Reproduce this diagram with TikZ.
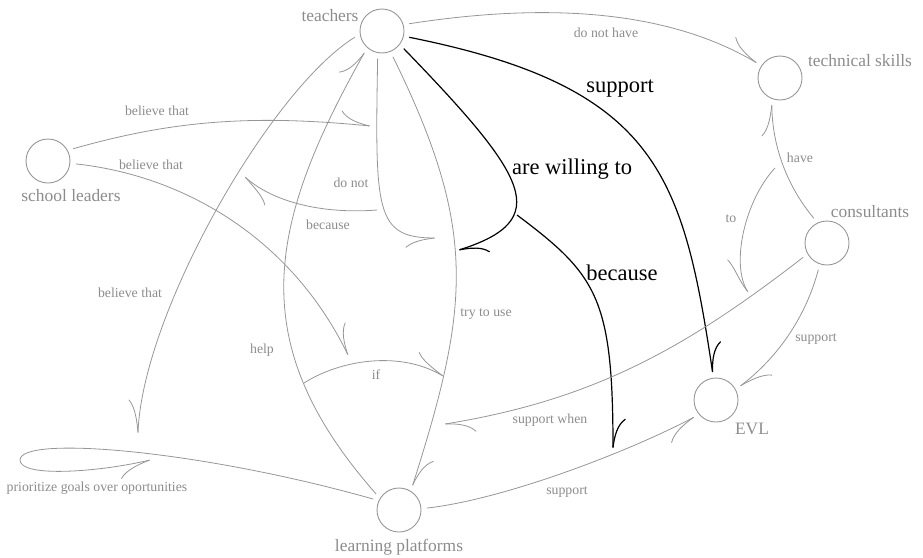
\documentclass[tikz,border=0pt]{standalone}
\usepackage{fontspec}
\setmainfont{Liberation Serif}
\usepackage{xcolor}
\usetikzlibrary{arrows.meta,bending,positioning}
\definecolor{mapgray}{RGB}{150,150,150}
\definecolor{labelgray}{RGB}{140,140,140}
\tikzset{%
	concept/.style     = {draw=mapgray, line width=0.9pt, circle, minimum size=44pt, inner sep=0pt, outer sep=6pt},
	conceptname/.style = {text=labelgray, font=\fontsize{17.4}{20}\selectfont, inner sep=0pt},
	tag/.style         = {text=labelgray, font=\fontsize{13.8}{16}\selectfont, inner sep=0pt},
	bigtag/.style      = {text=black, font=\fontsize{22.5}{26}\selectfont, inner sep=0pt},
	link/.style        = {draw=mapgray, line width=0.8pt, -{To[harpoon, length=30pt, width=26pt, bend]}},
	linkr/.style       = {draw=mapgray, line width=0.8pt, -{To[harpoon, swap, length=30pt, width=26pt, bend]}},
	strong/.style      = {draw=black, line width=1.2pt, -{To[harpoon, length=30pt, width=26pt, bend]}},
}
\begin{document}
\begin{tikzpicture}[x=1pt,y=-1pt]
	\useasboundingbox (0,0) rectangle (923,557);

	% concepts
	\node[concept] (teachers)    at (382,31)  {};
	\node[concept] (leaders)     at (48,161)  {};
	\node[concept] (skills)      at (780,78)  {};
	\node[concept] (consultants) at (827,243) {};
	\node[concept] (evl)         at (716,400) {};
	\node[concept] (platforms)   at (399,510) {};

	\node[conceptname] (teacherstext)    at (330,16)  {teachers};
	\node[conceptname] (leaderstext)     at (71,196)  {school leaders};
	\node[conceptname] (skillstext)      at (860,61)  {technical skills};
	\node[conceptname] (consultantstext) at (870,212) {consultants};
	\node[conceptname] (evltext)         at (752,429) {EVL};
	\node[conceptname] (platformstext)   at (399,547) {learning platforms};

	% free ends of links that point at other links
	\coordinate (slend)       at (370,126);
	\coordinate (sltwoend)    at (348,355);
	\coordinate (tbend)       at (138,433);
	\coordinate (donotend)    at (435,238);
	\coordinate (becstart)    at (377,210);
	\coordinate (becend)      at (245,177);
	\coordinate (willend)     at (459,250);
	\coordinate (bigbecstart) at (517,215);
	\coordinate (bigbecend)   at (613,448);
	\coordinate (ifstart)     at (304,383);
	\coordinate (ifend)       at (443,376);
	\coordinate (loopturn)    at (20,460);
	\coordinate (loopend)     at (150,460);
	\coordinate (whenend)     at (445,424);
	\coordinate (tostart)     at (775,168);
	\coordinate (toend)       at (748,292);

	\draw[link] (teachers.15) .. controls (530,5) and (660,5) .. (skills.147);
	\draw[strong] (teachers.-13) .. controls (658,87) and (683,175) .. (evl.97);
	\draw[strong] (teachers.-39) .. controls (529,178) and (554,220) .. (willend);
	\draw[strong] (bigbecstart) .. controls (597,275) and (613,298) .. (bigbecend);
	\draw[linkr] (teachers.-99) .. controls (375,212) and (375,238) .. (donotend);
	\draw[link] (becstart) .. controls (327,214) and (275,204) .. (becend);
	\draw[link] (leaders.26) .. controls (171,121) and (250,114) .. (slend);
	\draw[link] (leaders.-6) .. controls (180,175) and (290,235) .. (sltwoend);
	\draw[linkr] (teachers.193) .. controls (271,89) and (142,313) .. (tbend);
	\draw[link] (platforms.145) .. controls (244,344) and (266,227) .. (teachers.-129);
	\draw[link] (ifstart) .. controls (340,360) and (400,350) .. (ifend);
	\draw[link] (teachers.-67) .. controls (478,230) and (470,305) .. (platforms.61);
	\draw[linkr] (platforms.157) .. controls (200,450) and (20,435) .. (loopturn) .. controls (20,478) and (100,472) .. (loopend);
	\draw[linkr] (platforms.4) .. controls (500,500) and (622,455) .. (evl.218);
	\draw[link] (consultants.211) .. controls (686,348) and (594,400) .. (whenend);
	\draw[link] (consultants.-108) .. controls (805,320) and (775,360) .. (evl.30);
	\draw[link] (consultants.118) .. controls (790,190) and (772,150) .. (skills.-107);
	\draw[linkr] (tostart) .. controls (745,200) and (730,265) .. (toend);

	% link phrases
	\node[tag] (tdonothave) at (606,33)  {do not have};
	\node[tag] (tbelieveup) at (157,111) {believe that};
	\node[tag] (tbelievedn) at (151,165) {believe that};
	\node[tag] (tdonot)     at (351,183) {do not};
	\node[tag] (tbecause)   at (328,225) {because};
	\node[tag] (tbelievelf) at (130,293) {believe that};
	\node[tag] (thelp)      at (262,350) {help};
	\node[tag] (tif)        at (376,375) {if};
	\node[tag] (ttrytouse)  at (486,314) {try to use};
	\node[tag] (tprioritize) at (97,488) {prioritize goals over oportunities};
	\node[tag] (tsuppwhen)  at (550,420) {support when};
	\node[tag] (tsupplp)    at (567,492) {support};
	\node[tag] (tsuppcons)  at (816,339) {support};
	\node[tag] (thave)      at (800,158) {have};
	\node[tag] (tto)        at (731,219) {to};

	\node[bigtag] (tsupport) at (620,89)  {support};
	\node[bigtag] (twilling) at (572,169) {are willing to};
	\node[bigtag] (tbigbec)  at (622,273) {because};
\end{tikzpicture}
\end{document}
